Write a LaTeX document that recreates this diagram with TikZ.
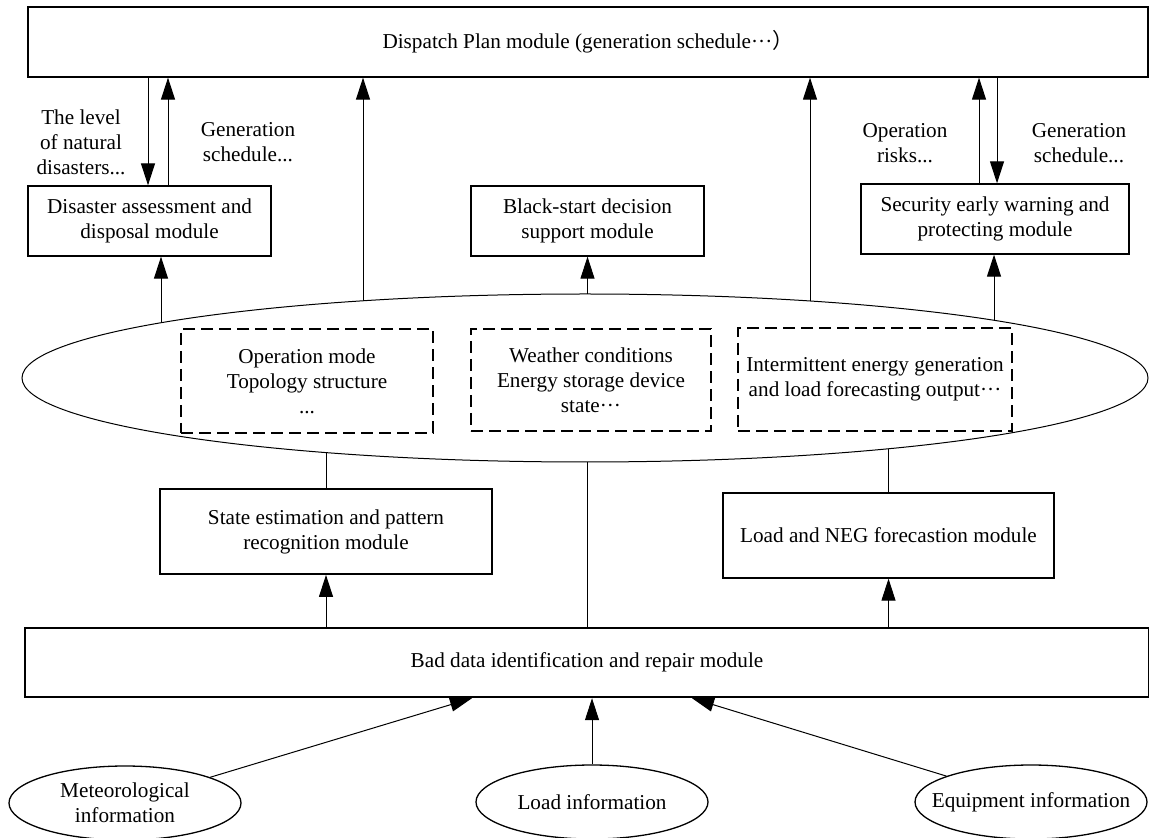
\documentclass[tikz,border=0pt]{standalone}
\usepackage{fontspec}
\setmainfont{Liberation Serif}
\newfontfamily\cjk{Noto Sans CJK SC}
\usetikzlibrary{arrows.meta,shapes.geometric,calc}
\tikzset{
  module/.style={draw,line width=0.65pt,align=center,inner sep=0pt},
  infobox/.style={draw,line width=1pt,dash pattern=on 6pt off 3pt,align=center,inner sep=0pt},
  source/.style={draw,ellipse,line width=0.65pt,inner sep=0pt,minimum width=116pt,minimum height=37pt},
  flow/.style={-{Triangle[length=11pt,width=7pt]},line width=0.5pt},
  link/.style={line width=0.5pt},
  note/.style={align=center},
}
% point on the rim of the shared data ellipse, above / below a given x
\newcommand\rimtop[1]{($(pool.center)+(#1-585,{-84*sqrt(1-((#1-585)/563)^2)})$)}
\newcommand\rimbot[1]{($(pool.center)+(#1-585,{84*sqrt(1-((#1-585)/563)^2)})$)}
\begin{document}
\begin{tikzpicture}[x=0.5pt,y=-0.5pt,font=\fontsize{10.6}{12.5}\selectfont]
\useasboundingbox (0,0) rectangle (1149,838);
% upper modules
\node[module,minimum width=560pt,minimum height=35pt] (plan) at (588,42) {Dispatch Plan module (generation schedule···\cjk{）}};
\node[module,minimum width=121.5pt,minimum height=35pt] (disaster) at (149.5,221) {Disaster assessment and\\disposal module};
\node[module,minimum width=116.5pt,minimum height=35pt] (blackstart) at (587.5,221) {Black-start decision\\support module};
\node[module,minimum width=134pt,minimum height=35pt] (warning) at (995,219) {Security early warning and\\protecting module};
% shared data
\node[draw,ellipse,line width=0.5pt,minimum width=563pt,minimum height=84pt] (pool) at (585,378) {};
\node[infobox,minimum width=126pt,minimum height=52pt] (grid) at (307,381) {Operation mode\\Topology structure\\...};
\node[infobox,minimum width=120pt,minimum height=51pt] (weather) at (591,380) {Weather conditions\\Energy storage device\\state···};
\node[infobox,minimum width=137pt,minimum height=51.5pt] (output) at (875,379.5) {Intermittent energy generation\\and load forecasting output···};
% lower modules
\node[module,line width=0.9pt,minimum width=166pt,minimum height=42.5pt] (state) at (326,531.5) {State estimation and pattern\\recognition module};
\node[module,minimum width=165.5pt,minimum height=42.5pt] (forecast) at (888.5,535.5) {Load and NEG forecastion module};
\node[module,line width=1.2pt,minimum width=562pt,minimum height=34.5pt] (baddata) at (587,662.5) {Bad data identification and repair module};
% sources
\node[source,label={[align=center]center:Meteorological\\information}] (meteo) at (125,803) {};
\node[source,label=center:Load information] (load) at (592,802) {};
\node[source,label=center:Equipment information] (equip) at (1031,802) {};
% labels
\node[note] (levels) at (81,142) {The level\\of natural\\disasters...};
\node[note] (schedleft) at (248,142) {Generation\\schedule...};
\node[note] (risks) at (905,143) {Operation\\risks...};
\node[note] (schedright) at (1079,143) {Generation\\schedule...};
% connectors
\draw[flow] (148,0 |- plan.south) -- (148,0 |- disaster.north);
\draw[flow] (168,0 |- disaster.north) -- (168,0 |- plan.south);
\draw[flow] (979,0 |- warning.north) -- (979,0 |- plan.south);
\draw[flow] (997,0 |- plan.south) -- (997,0 |- warning.north);
\draw[flow] \rimtop{161} -- (161,0 |- disaster.south);
\draw[flow] \rimtop{363} -- (363,0 |- plan.south);
\draw[flow] \rimtop{587.5} -- (blackstart.south);
\draw[flow] \rimtop{810} -- (810,0 |- plan.south);
\draw[flow] \rimtop{994} -- (994,0 |- warning.south);
\draw[link] (state.north) -- \rimbot{326};
\draw[link] (forecast.north) -- \rimbot{888.5};
\draw[link] (baddata.north) -- \rimbot{587};
\draw[flow] (326,0 |- baddata.north) -- (state.south);
\draw[flow] (888.5,0 |- baddata.north) -- (forecast.south);
\draw[flow] (meteo) -- (472,0 |- baddata.south);
\draw[flow] (load.north) -- (load.north |- baddata.south);
\draw[flow] (equip) -- (692,0 |- baddata.south);
\end{tikzpicture}
\end{document}
